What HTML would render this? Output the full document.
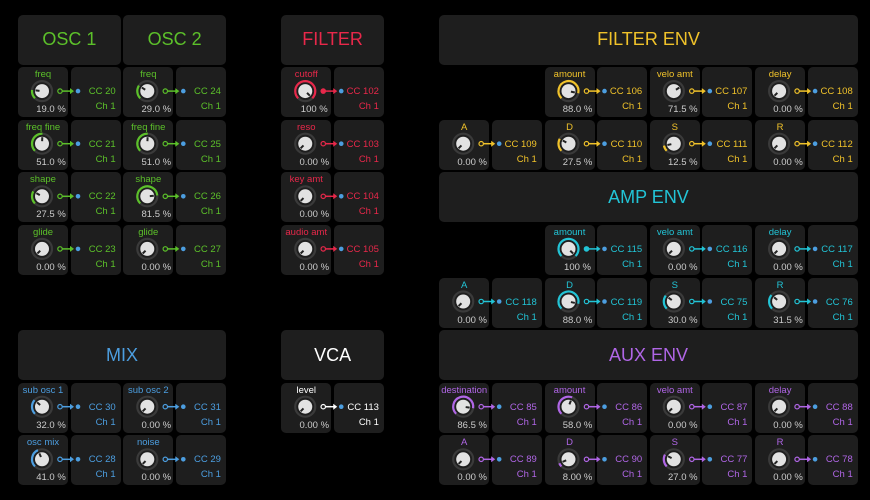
<!DOCTYPE html>
<html><head><meta charset="utf-8">
<style>
html,body{margin:0;padding:0;background:#000;width:870px;height:500px;overflow:hidden;font-family:"Liberation Sans",sans-serif;}
.c{position:absolute;background:#1e1e1e;border-radius:5px;}
.h{display:flex;align-items:center;justify-content:center;font-size:18px;}
.t{position:absolute;font-size:9.5px;white-space:nowrap;}
svg{position:absolute;overflow:visible}
</style></head><body>
<div id="r"></div>
<script>
const G='#5cc02a',R='#e8284a',Y='#f0c22a',C='#22c4d6',B='#4c9ee0',W='#ffffff',P='#b066e6',BL='#4c9ee0';
const PX=52.65;
const X=k=>18+PX*k, Yp=r=>14.5+52.6*r;
let h='';
function hdr(col,row,n,txt,color){h+=`<div class="c h" style="left:${X(col)}px;top:${Yp(row)}px;width:${PX*n-2.6}px;height:50px;color:${color}">${txt}</div>`;}
function knob(col,row,label,val,cc,color,bip,endc){
 const x=X(col),y=Yp(row);
 h+=`<div class="c" style="left:${x}px;top:${y}px;width:50px;height:50px"></div>`;
 h+=`<div class="c" style="left:${x+PX}px;top:${y}px;width:50px;height:50px"></div>`;
 h+=`<div class="t" style="left:${x}px;width:50px;text-align:center;top:${y+2}px;color:${color}">${label}</div>`;
 h+=`<div class="t" style="left:${x+8}px;width:50px;text-align:center;top:${y+37}px;color:#ccc">${val}</div>`;
 h+=`<div class="t" style="left:${x+PX}px;width:45px;text-align:right;top:${y+19}px;color:${color}">CC ${cc}</div>`;
 h+=`<div class="t" style="left:${x+PX}px;width:45px;text-align:right;top:${y+34}px;color:${color}">Ch 1</div>`;
 const v=parseFloat(val)/100, cx=x+24, cy=y+24, r=10;
 const a0=-225, a1=a0+270*v;
 const pt=(a,rr)=>[cx+rr*Math.cos(a*Math.PI/180), cy+rr*Math.sin(a*Math.PI/180)];
 let arc='';
 if(!bip && v>0.001){const [sx,sy]=pt(a0,r),[ex,ey]=pt(a1,r);arc=`<path d="M${sx} ${sy} A${r} ${r} 0 ${270*v>180?1:0} 1 ${ex} ${ey}" stroke="${color}" stroke-width="2.2" fill="none"/>`;}
 const [ix,iy]=pt(a1,6.5),[jx,jy]=pt(a1,2.5);
 const lx=x+42,ex2=x+60;
 h+=`<svg width="870" height="500" style="left:0;top:0"><circle cx="${cx}" cy="${cy}" r="${r}" stroke="#3a3a3a" stroke-width="2.2" fill="none"/>${arc}<circle cx="${cx}" cy="${cy}" r="7" fill="#e2e2e2"/><line x1="${jx}" y1="${jy}" x2="${ix}" y2="${iy}" stroke="#222" stroke-width="2"/>
 <circle cx="${lx}" cy="${cy}" r="2.2" fill="${v>=0.999?color:'#1e1e1e'}" stroke="${color}" stroke-width="1.2"/><line x1="${lx+2}" y1="${cy}" x2="${lx+11}" y2="${cy}" stroke="${color}" stroke-width="1.5"/><path d="M${lx+10} ${cy-3}L${lx+14} ${cy}L${lx+10} ${cy+3}Z" fill="${color}"/><circle cx="${ex2}" cy="${cy}" r="2.3" fill="${endc||BL}"/></svg>`;
}
hdr(0,0,2,'OSC 1',G);hdr(2,0,2,'OSC 2',G);
[['freq','19.0 %','20'],['freq fine','51.0 %','21'],['shape','27.5 %','22'],['glide','0.00 %','23']].forEach((d,i)=>knob(0,i+1,d[0],d[1],d[2],G));
[['freq','29.0 %','24'],['freq fine','51.0 %','25'],['shape','81.5 %','26'],['glide','0.00 %','27']].forEach((d,i)=>knob(2,i+1,d[0],d[1],d[2],G));
hdr(5,0,2,'FILTER',R);
[['cutoff','100 %','102'],['reso','0.00 %','103'],['key amt','0.00 %','104'],['audio amt','0.00 %','105']].forEach((d,i)=>knob(5,i+1,d[0],d[1],d[2],R));
function env(row,title,col,ccs,vals){
 hdr(8,row,8,title,col);
 knob(10,row+1,'amount',vals[0],ccs[0],col);
 knob(12,row+1,'velo amt',vals[1],ccs[1],col,true);
 knob(14,row+1,'delay',vals[2],ccs[2],col);
 ['A','D','S','R'].forEach((l,i)=>knob(8+2*i,row+2,l,vals[3+i],ccs[3+i],col));
}
env(0,'FILTER ENV',Y,['106','107','108','109','110','111','112'],['88.0 %','71.5 %','0.00 %','0.00 %','27.5 %','12.5 %','0.00 %']);
env(3,'AMP ENV',C,['115','116','117','118','119','75','76'],['100 %','0.00 %','0.00 %','0.00 %','88.0 %','30.0 %','31.5 %']);
hdr(8,6,8,'AUX ENV',P);
knob(8,7,'destination','86.5 %','85',P);
knob(10,7,'amount','58.0 %','86',P);
knob(12,7,'velo amt','0.00 %','87',P,true);
knob(14,7,'delay','0.00 %','88',P);
[['A','0.00 %','89'],['D','8.00 %','90'],['S','27.0 %','77'],['R','0.00 %','78']].forEach((d,i)=>knob(8+2*i,8,d[0],d[1],d[2],P));
hdr(0,6,4,'MIX',B);
knob(0,7,'sub osc 1','32.0 %','30',B,false,B);
knob(2,7,'sub osc 2','0.00 %','31',B,false,B);
knob(0,8,'osc mix','41.0 %','28',B,false,B);
knob(2,8,'noise','0.00 %','29',B,false,B);
hdr(5,6,2,'VCA',W);
knob(5,7,'level','0.00 %','113',W);
document.getElementById('r').innerHTML=h;
</script>
</body></html>
